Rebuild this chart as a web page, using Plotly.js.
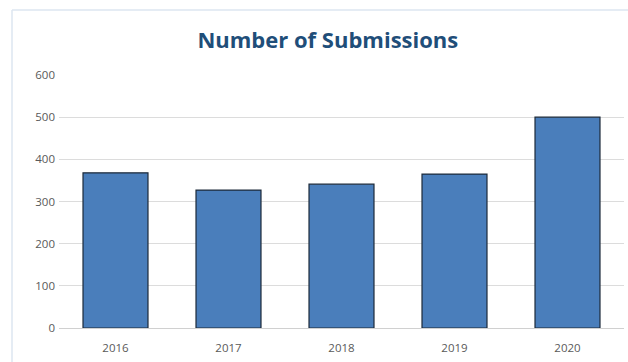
<!DOCTYPE html>
<html><head><meta charset="utf-8">
<script src="https://cdn.plot.ly/plotly-3.0.1.min.js"></script>
<style>html,body{margin:0;padding:0;background:#fff;}#chart{width:628px;height:362px;}</style>
</head><body><div id="chart"></div>
<script>
const years = ['2016', '2017', '2018', '2019', '2020'];
const submissions = [368, 327, 341, 365, 500];
const yTicks = [0, 100, 200, 300, 400, 500, 600];

const L = 59, R = 4, T = 75, B = 34, W = 628, H = 362;
const pw = W - L - R, ph = H - T - B;
const px = v => (v - L) / pw, py = v => (H - B - v) / ph;

Plotly.newPlot('chart', [{
  type: 'bar', x: years, y: submissions,
  marker: {color: '#4a7ebb', line: {color: '#1c2a3a', width: 1.2}},
  width: 0.575, hoverinfo: 'none'
}], {
  width: W, height: H,
  margin: {l: L, r: R, t: T, b: B, pad: 0},
  paper_bgcolor: '#fff', plot_bgcolor: '#fff',
  title: {text: '<b>Number of Submissions</b>', x: 0.522, xanchor: 'center', y: 1 - 40 / H, yanchor: 'middle',
    font: {family: 'Open Sans, sans-serif', size: 22, color: '#1f4e79'}},
  xaxis: {type: 'category', showgrid: false, showline: false, zeroline: false, ticks: '',
    tickfont: {family: 'Open Sans, sans-serif', size: 11.5, color: '#595959'}, ticklabelstandoff: 11},
  yaxis: {range: [0, 600], tickvals: yTicks, showgrid: true, gridcolor: '#dcdcdc', gridwidth: 1,
    zeroline: true, zerolinecolor: '#d0d0d0', zerolinewidth: 1, showline: false, ticks: '',
    tickfont: {family: 'Open Sans, sans-serif', size: 11.5, color: '#595959'}, ticklabelstandoff: 3},
  showlegend: false,
  shapes: [
    {type: 'line', xref: 'paper', yref: 'paper', x0: px(12), x1: px(12), y0: py(10), y1: py(362), line: {color: '#dde6f0', width: 1.5}},
    {type: 'line', xref: 'paper', yref: 'paper', x0: px(12), x1: px(628), y0: py(10), y1: py(10), line: {color: '#dde6f0', width: 1.5}}
  ]
}, {displayModeBar: false, staticPlot: true});
</script></body></html>
